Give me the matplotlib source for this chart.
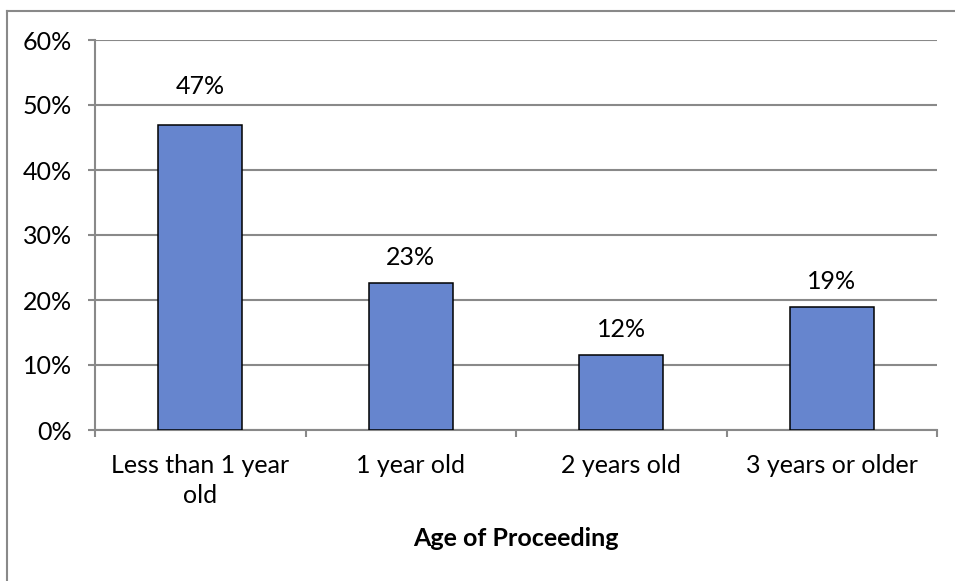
import matplotlib
matplotlib.use('Agg')
import matplotlib.pyplot as plt
from matplotlib.lines import Line2D
from matplotlib.ticker import PercentFormatter

# share of proceedings by age
categories = ['Less than 1 year\nold', '1 year old', '2 years old', '3 years or older']
shares = [0.469, 0.226, 0.115, 0.189]
y_ticks = [0, 0.1, 0.2, 0.3, 0.4, 0.5, 0.6]

plt.rcParams['font.family'] = ['Lato', 'DejaVu Sans']

W, H = 955, 581
fig = plt.figure(figsize=(W / 100, H / 100), dpi=100)
ax = fig.add_axes([95 / W, 1 - 430 / H, (937 - 95) / W, 390 / H])

grey = '#898989'
bar_color = '#6685CE'

x = list(range(len(categories)))
bars = ax.bar(x, shares, width=0.4, color=bar_color, edgecolor='black', linewidth=1.1, zorder=3)

ax.set_xlim(-0.5, len(categories) - 0.5)
ax.set_ylim(0, 0.6)
ax.set_yticks(y_ticks)
ax.yaxis.set_major_formatter(PercentFormatter(1.0, decimals=0))
ax.grid(axis='y', color=grey, linewidth=1.5, zorder=0)
ax.tick_params(axis='y', length=5, width=1.5, color=grey, pad=11.6, labelsize=18)

# category labels sit between the boundary ticks
ax.set_xticks([i - 0.5 for i in range(len(categories) + 1)])
ax.set_xticklabels([])
ax.set_xticks(x, minor=True)
ax.set_xticklabels(categories, minor=True, fontsize=18, linespacing=1.35)
ax.tick_params(axis='x', which='major', length=5, width=1.5, color=grey)
ax.tick_params(axis='x', which='minor', length=0, pad=17.5)

for side in ['top', 'right']:
    ax.spines[side].set_visible(False)
for side in ['left', 'bottom']:
    ax.spines[side].set_color(grey)
    ax.spines[side].set_linewidth(1.5)

# value labels above the bars
label_offsets = [39, 26, 26, 26]
for b, v, off in zip(bars, shares, label_offsets):
    ax.annotate(f'{v * 100:.0f}%', (b.get_x() + b.get_width() / 2, v),
                xytext=(0, off * 0.72), textcoords='offset points',
                ha='center', va='center', fontsize=18)

fig.text((95 + 937) / 2 / W, 1 - 538 / H, 'Age of Proceeding', ha='center', va='center',
         fontsize=18, fontweight='bold')

# chart frame (left and top edges)
fig.add_artist(Line2D([7 / W, 7 / W], [0, 1 - 11 / H], color=grey, linewidth=1.5))
fig.add_artist(Line2D([7 / W, 1], [1 - 11 / H, 1 - 11 / H], color=grey, linewidth=1.5))

fig.savefig('out.png', dpi=100)
